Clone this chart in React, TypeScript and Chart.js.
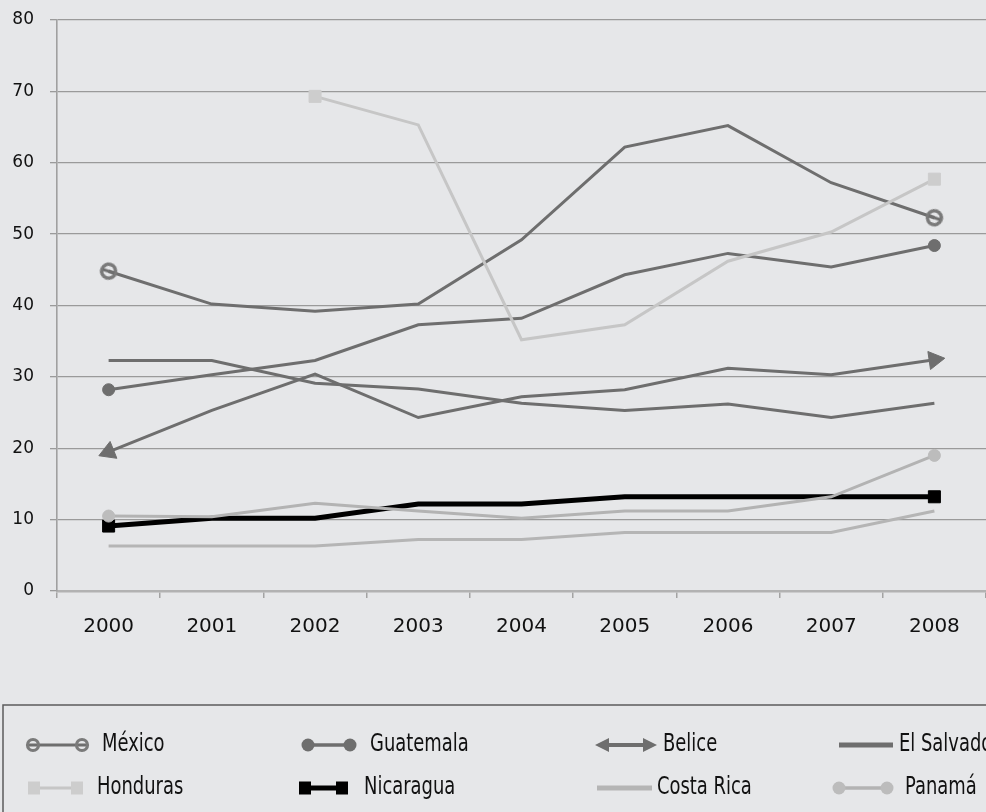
import React, { useEffect, useRef } from "react";
import { Chart, registerables } from "chart.js";

Chart.register(...registerables);

// ---------- data ----------
const years = ["2000", "2001", "2002", "2003", "2004", "2005", "2006", "2007", "2008"];
const yTicks = [0, 10, 20, 30, 40, 50, 60, 70, 80];

const mexico = [44.8, 40.2, 39.2, 40.2, 49.2, 62.2, 65.2, 57.2, 52.3];
const guatemala = [28.2, 30.3, 32.3, 37.3, 38.2, 44.3, 47.3, 45.4, 48.4];
const belice = [19.5, 25.3, 30.4, 24.3, 27.2, 28.2, 31.2, 30.3, 32.4];
const elSalvador = [32.3, 32.3, 29.1, 28.3, 26.3, 25.3, 26.2, 24.3, 26.3];
const honduras = [null, null, 69.3, 65.3, 35.2, 37.3, 46.2, 50.3, 57.7];
const nicaragua = [9.1, 10.2, 10.2, 12.2, 12.2, 13.2, 13.2, 13.2, 13.2];
const costaRica = [6.3, 6.3, 6.3, 7.2, 7.2, 8.2, 8.2, 8.2, 11.2];
const panama = [10.5, 10.4, 12.3, 11.2, 10.2, 11.2, 11.2, 13.2, 19.0];

const names = ["México", "Guatemala", "Belice", "El Salvador", "Honduras", "Nicaragua", "Costa Rica", "Panamá"];

// ---------- styles ----------
const BG = "#e6e7e9";
const DARK = "#6e6e6e";
const RING = "#7a7a7a";
const HOND = "#c6c6c6";
const HOND_MK = "#cdcdcd";
const COSTA = "#b5b5b5";
const PAN = "#b3b3b3";
const PAN_MK = "#bcbcbc";
const TEXT = "#111111";
const LEGEND_FONT = "24px 'DejaVu Sans Condensed', 'Liberation Sans Narrow', 'Noto Sans', sans-serif";
const LEGEND_SQUEEZE = 0.83;

// legend layout (row y, marker x range, text x), in dataset order
const legendSlots = [
  { y: 745, x0: 27, x1: 88, tx: 102 },
  { y: 745, x0: 302, x1: 356, tx: 370 },
  { y: 745, x0: 595, x1: 657, tx: 663 },
  { y: 745, x0: 839, x1: 893, tx: 899 },
  { y: 788, x0: 28, x1: 83, tx: 97 },
  { y: 788, x0: 299, x1: 348, tx: 364 },
  { y: 788, x0: 597, x1: 652, tx: 657 },
  { y: 788, x0: 833, x1: 893, tx: 905 },
];

function makeRing(): HTMLCanvasElement {
  const c = document.createElement("canvas");
  c.width = 20;
  c.height = 20;
  const g = c.getContext("2d")!;
  g.strokeStyle = RING;
  g.lineWidth = 3.5;
  g.beginPath();
  g.arc(10, 10, 7, 0, Math.PI * 2);
  g.stroke();
  g.strokeStyle = DARK;
  g.lineWidth = 3;
  g.beginPath();
  g.moveTo(4, 10);
  g.lineTo(16, 10);
  g.stroke();
  return c;
}

function validIdx(data: (number | null)[]) {
  const idx: number[] = [];
  data.forEach((v, i) => {
    if (v !== null && v !== undefined) idx.push(i);
  });
  return idx;
}

function isEnd(ctx: any) {
  if (ctx.dataIndex === undefined) return false;
  const data = ctx.chart.data.datasets[ctx.datasetIndex].data;
  const idx = validIdx(data);
  return ctx.dataIndex === idx[0] || ctx.dataIndex === idx[idx.length - 1];
}

// direction (pixels) from neighbour toward the end point
function endDir(ctx: any): [number, number] {
  const chart = ctx.chart;
  const data = chart.data.datasets[ctx.datasetIndex].data;
  const idx = validIdx(data);
  const i = ctx.dataIndex;
  const pos = idx.indexOf(i);
  const j = pos === 0 ? idx[1] : idx[pos - 1];
  const xs = chart.scales.x;
  const ys = chart.scales.y;
  if (!xs || !ys || j === undefined) return [1, 0];
  const dx = xs.getPixelForValue(i) - xs.getPixelForValue(j);
  const dy = ys.getPixelForValue(data[i]) - ys.getPixelForValue(data[j]);
  return [dx, dy];
}

function arrowRotation(ctx: any) {
  if (ctx.dataIndex === undefined) return 0;
  const [dx, dy] = endDir(ctx);
  return (Math.atan2(dx, -dy) * 180) / Math.PI;
}

function lineRotation(ctx: any) {
  if (ctx.dataIndex === undefined) return 0;
  const [dx, dy] = endDir(ctx);
  return (Math.atan2(dy, dx) * 180) / Math.PI;
}

const bgPlugin = {
  id: "bg",
  beforeDraw(chart: any) {
    const c = chart.ctx;
    c.save();
    c.fillStyle = BG;
    c.fillRect(0, 0, chart.width, chart.height);
    c.restore();
  },
};

function drawTri(c: CanvasRenderingContext2D, x: number, y: number, dir: number) {
  // tip at x, pointing in dir (+1 right, -1 left)
  c.beginPath();
  c.moveTo(x, y);
  c.lineTo(x - dir * 14, y - 7);
  c.lineTo(x - dir * 14, y + 7);
  c.closePath();
  c.fill();
}

const legendPlugin = {
  id: "customLegend",
  afterDraw(chart: any) {
    const c: CanvasRenderingContext2D = chart.ctx;
    c.save();
    // frame
    c.strokeStyle = "#5c5c5c";
    c.lineWidth = 1.5;
    c.strokeRect(3, 705, chart.width + 10, 120);
    chart.data.datasets.forEach((ds: any, k: number) => {
      const s = legendSlots[k];
      const kind = ds.legendKind;
      const col = ds.borderColor;
      c.lineCap = "butt";
      if (kind === "ring") {
        c.strokeStyle = col;
        c.lineWidth = 3;
        c.beginPath();
        c.moveTo(s.x0, s.y);
        c.lineTo(s.x1, s.y);
        c.stroke();
        c.strokeStyle = RING;
        c.lineWidth = 3.2;
        for (const cx of [s.x0 + 6, s.x1 - 6]) {
          c.beginPath();
          c.arc(cx, s.y, 5.5, 0, Math.PI * 2);
          c.stroke();
        }
      } else if (kind === "dot") {
        c.strokeStyle = col;
        c.lineWidth = 3.5;
        c.beginPath();
        c.moveTo(s.x0, s.y);
        c.lineTo(s.x1, s.y);
        c.stroke();
        c.fillStyle = ds.pointBackgroundColor;
        for (const cx of [s.x0 + 6, s.x1 - 6]) {
          c.beginPath();
          c.arc(cx, s.y, 6.5, 0, Math.PI * 2);
          c.fill();
        }
      } else if (kind === "arrow") {
        c.strokeStyle = col;
        c.fillStyle = col;
        c.lineWidth = 4;
        c.beginPath();
        c.moveTo(s.x0 + 10, s.y);
        c.lineTo(s.x1 - 10, s.y);
        c.stroke();
        drawTri(c, s.x0, s.y, -1);
        drawTri(c, s.x1, s.y, 1);
      } else if (kind === "line") {
        c.strokeStyle = col;
        c.lineWidth = 5;
        c.beginPath();
        c.moveTo(s.x0, s.y);
        c.lineTo(s.x1, s.y);
        c.stroke();
      } else if (kind === "square") {
        c.strokeStyle = col;
        c.lineWidth = ds.borderWidth;
        c.beginPath();
        c.moveTo(s.x0, s.y);
        c.lineTo(s.x1, s.y);
        c.stroke();
        c.fillStyle = ds.pointBackgroundColor;
        c.fillRect(s.x0, s.y - 6.5, 12, 13);
        c.fillRect(s.x1 - 12, s.y - 6.5, 12, 13);
      }
      c.save();
      c.fillStyle = TEXT;
      c.font = LEGEND_FONT;
      c.textBaseline = "middle";
      c.textAlign = "left";
      c.translate(s.tx, s.y);
      c.scale(LEGEND_SQUEEZE, 1);
      c.fillText(ds.label, 0, 0);
      c.restore();
    });
    c.restore();
  },
};

export default function App() {
  const ref = useRef<HTMLCanvasElement>(null);

  useEffect(() => {
    document.body.style.margin = "0";
    document.body.style.background = BG;
    const ring = makeRing();
    const endRadius = (r: number) => (ctx: any) => (isEnd(ctx) ? r : 0);

    const datasets: any[] = [
      {
        label: names[0],
        data: mexico,
        borderColor: DARK,
        borderWidth: 3,
        pointStyle: ring,
        pointRadius: endRadius(8),
        pointRotation: lineRotation,
        legendKind: "ring",
      },
      {
        label: names[1],
        data: guatemala,
        borderColor: DARK,
        borderWidth: 3,
        pointStyle: "circle",
        pointRadius: endRadius(6),
        pointBackgroundColor: DARK,
        pointBorderColor: DARK,
        pointBorderWidth: 1,
        legendKind: "dot",
      },
      {
        label: names[2],
        data: belice,
        borderColor: DARK,
        borderWidth: 3,
        pointStyle: "triangle",
        pointRadius: endRadius(10.5),
        pointRotation: arrowRotation,
        pointBackgroundColor: DARK,
        pointBorderColor: DARK,
        pointBorderWidth: 1,
        legendKind: "arrow",
      },
      {
        label: names[3],
        data: elSalvador,
        borderColor: DARK,
        borderWidth: 3,
        pointRadius: 0,
        legendKind: "line",
      },
      {
        label: names[4],
        data: honduras,
        borderColor: HOND,
        borderWidth: 3,
        pointStyle: "rect",
        pointRadius: endRadius(8.5),
        pointBackgroundColor: HOND_MK,
        pointBorderColor: HOND_MK,
        pointBorderWidth: 1,
        legendKind: "square",
      },
      {
        label: names[5],
        data: nicaragua,
        borderColor: "#000000",
        borderWidth: 5,
        pointStyle: "rect",
        pointRadius: endRadius(8.5),
        pointBackgroundColor: "#000000",
        pointBorderColor: "#000000",
        pointBorderWidth: 1,
        legendKind: "square",
      },
      {
        label: names[6],
        data: costaRica,
        borderColor: COSTA,
        borderWidth: 3,
        pointRadius: 0,
        legendKind: "line",
      },
      {
        label: names[7],
        data: panama,
        borderColor: PAN,
        borderWidth: 3,
        pointStyle: "circle",
        pointRadius: endRadius(6),
        pointBackgroundColor: PAN_MK,
        pointBorderColor: PAN_MK,
        pointBorderWidth: 1,
        legendKind: "dot",
      },
    ].map((d, i) => ({ ...d, tension: 0, fill: false, order: -i, pointHoverRadius: 0, clip: false }));

    const chart = new Chart(ref.current!, {
      type: "line",
      data: { labels: years, datasets },
      plugins: [bgPlugin, legendPlugin],
      options: {
        responsive: false,
        animation: false,
        events: [],
        layout: { autoPadding: false, padding: { top: 20, right: 0, bottom: 0, left: 0 } },
        plugins: { legend: { display: false }, tooltip: { enabled: false } },
        scales: {
          x: {
            type: "category",
            offset: true,
            grid: {
              offset: true,
              drawOnChartArea: false,
              drawTicks: true,
              tickLength: 7,
              color: "#a3a3a3",
              lineWidth: 1.5,
            },
            border: { color: "#b2b2b2", width: 2.5 },
            ticks: {
              padding: 17,
              color: TEXT,
              autoSkip: false,
              maxRotation: 0,
              font: { family: "'DejaVu Sans', sans-serif", size: 20 },
            },
            afterFit: (s: any) => {
              s.height = 221;
              s.paddingLeft = 0;
              s.paddingRight = 0;
            },
          },
          y: {
            min: 0,
            max: 80,
            afterBuildTicks: (s: any) => {
              s.ticks = yTicks.map((v) => ({ value: v }));
            },
            grid: {
              color: "#9a9a9a",
              lineWidth: 1.3,
              tickLength: 7,
            },
            border: { color: "#a0a0a0", width: 1.6 },
            ticks: {
              padding: 16,
              color: TEXT,
              font: { family: "'DejaVu Sans', sans-serif", size: 17 },
            },
            afterFit: (s: any) => {
              s.width = 57;
              s.paddingTop = 0;
              s.paddingBottom = 0;
            },
          },
        },
      },
    } as any);
    return () => chart.destroy();
  }, []);

  return (
    <div style={{ width: 986, height: 812 }}>
      <canvas ref={ref} width={986} height={812} style={{ display: "block" }} />
    </div>
  );
}
